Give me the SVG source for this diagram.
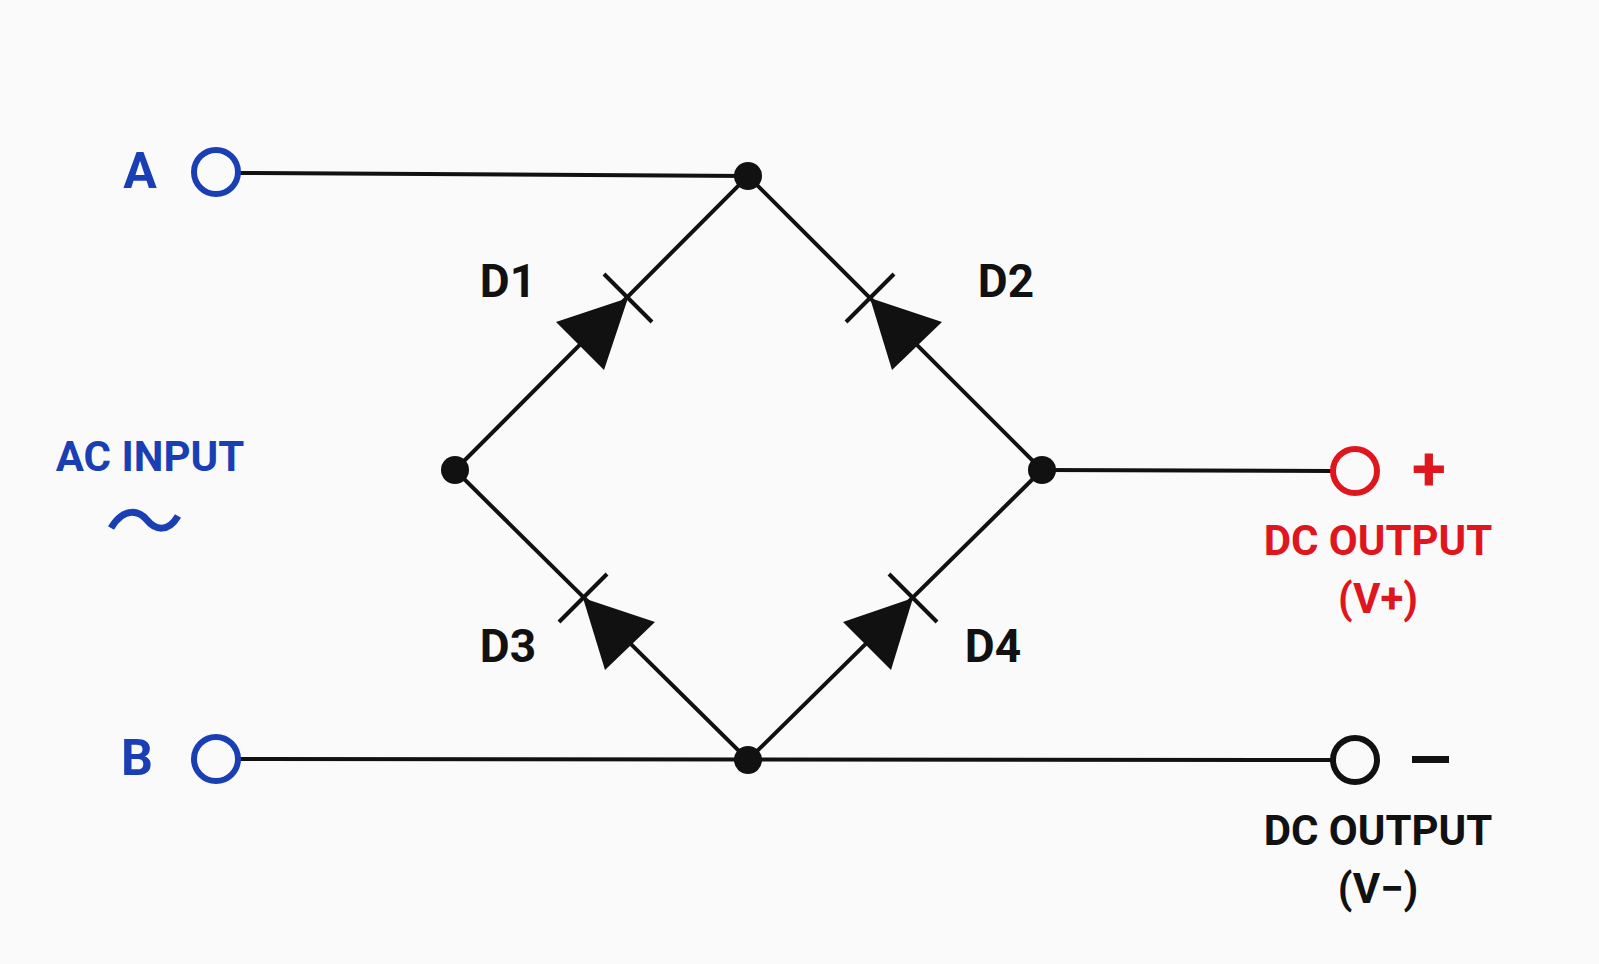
<svg xmlns="http://www.w3.org/2000/svg" width="1599" height="964" viewBox="0 0 1599 964">
<style>
.w{stroke:#111;stroke-width:4;fill:none}
.t{font-family:Roboto,"Liberation Sans",sans-serif;font-weight:bold}
.blue{fill:#1a3fb5}.red{fill:#e0161e}.blk{fill:#111}
.dot{fill:#111}
</style>
<rect width="1599" height="964" fill="#fafafa"/>
<g id="connectors">
<path class="w" d="M238 173 L748 176"/>
<path class="w" d="M238 759 L1333 760"/>
<path class="w" d="M1042 470 L1333 471"/>
<path class="w" d="M455 470 L748 176 L1042 470 L748 760 Z"/>
</g>
<g id="D1"><path class="w" d="M604 274 L652 322"/><polygon class="dot" points="628,298 556,322 604,370"/><text class="t blk" x="508" y="297" font-size="46" text-anchor="middle">D1</text></g>
<g id="D2"><path class="w" d="M846 322 L894 274"/><polygon class="dot" points="870,298 942,322 892,370"/><text class="t blk" x="1006" y="297" font-size="46" text-anchor="middle">D2</text></g>
<g id="D3"><path class="w" d="M559 622 L607 574"/><polygon class="dot" points="583,598 655,622 605,670"/><text class="t blk" x="508" y="662" font-size="46" text-anchor="middle">D3</text></g>
<g id="D4"><path class="w" d="M889 574 L937 622"/><polygon class="dot" points="913,598 843,622 891,670"/><text class="t blk" x="993" y="662" font-size="46" text-anchor="middle">D4</text></g>
<g id="nodes">
<circle class="dot" cx="748" cy="176" r="14"/><circle class="dot" cx="455" cy="470" r="14"/>
<circle class="dot" cx="1042" cy="470" r="14"/><circle class="dot" cx="748" cy="760" r="14"/>
</g>
<g id="termA"><circle cx="216" cy="172" r="22" fill="none" stroke="#1a3fb5" stroke-width="6"/><text class="t blue" x="140" y="188" font-size="50" text-anchor="middle">A</text></g>
<g id="termB"><circle cx="216" cy="759" r="22" fill="none" stroke="#1a3fb5" stroke-width="6"/><text class="t blue" x="137" y="775" font-size="50" text-anchor="middle">B</text></g>
<g id="acinput"><text class="t blue" x="150" y="471" font-size="42" text-anchor="middle">AC INPUT</text>
<path d="M111 528 C125 505 140 512 147 520 C155 530 168 533 178 516" fill="none" stroke="#1a3fb5" stroke-width="7"/></g>
<g id="termPlus"><circle cx="1355" cy="471" r="22" fill="none" stroke="#e0161e" stroke-width="6"/><text class="t red" x="1429" y="490" font-size="62" text-anchor="middle">+</text>
<text class="t red" x="1378" y="555" font-size="42" text-anchor="middle">DC OUTPUT</text><text class="t red" x="1378" y="613" font-size="42" text-anchor="middle">(V+)</text></g>
<g id="termMinus"><circle cx="1355" cy="760" r="22" fill="none" stroke="#111" stroke-width="6"/><rect x="1412" y="756" width="37" height="7" fill="#111"/>
<text class="t blk" x="1378" y="845" font-size="42" text-anchor="middle">DC OUTPUT</text><text class="t blk" x="1378" y="903" font-size="42" text-anchor="middle">(V−)</text></g>
</svg>
